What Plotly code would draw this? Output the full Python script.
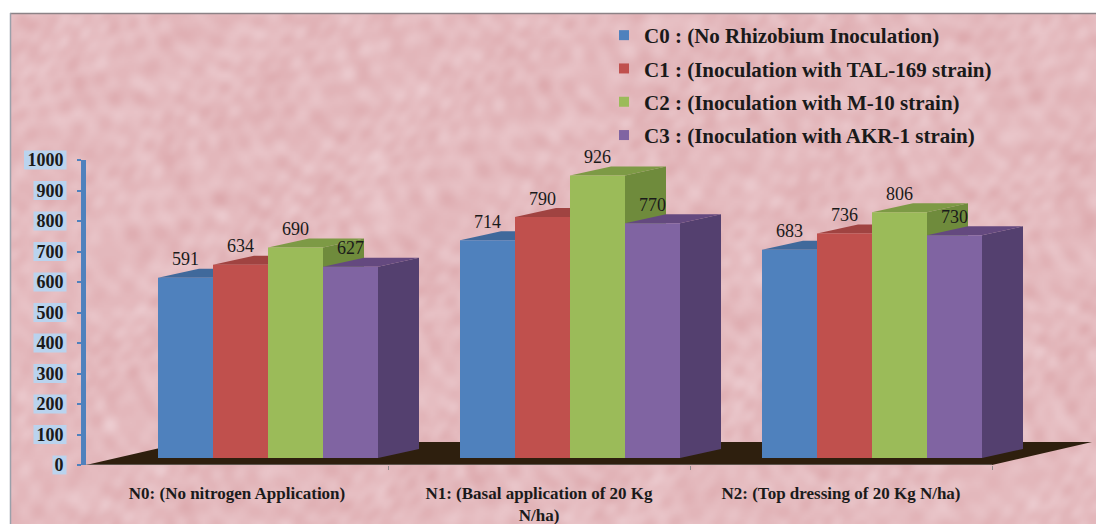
import base64
import struct
import zlib

import numpy as np
import plotly.graph_objects as go

groups = ["N0: (No nitrogen Application)", "N1: (Basal application of 20 Kg<br>N/ha)", "N2: (Top dressing of 20 Kg N/ha)"]
series_names = ["C0 : (No Rhizobium Inoculation)", "C1 : (Inoculation with TAL-169 strain)",
                "C2 : (Inoculation with M-10 strain)", "C3 : (Inoculation with AKR-1 strain)"]
c0 = [591, 714, 683]
c1 = [634, 790, 736]
c2 = [690, 926, 806]
c3 = [627, 770, 730]
series = [c0, c1, c2, c3]
y_ticks = [0, 100, 200, 300, 400, 500, 600, 700, 800, 900, 1000]

front = ["#4F81BD", "#C0504D", "#9BBB59", "#8064A2"]
side = ["#3A6291", "#8E3B39", "#6F8B3C", "#54406F"]
top = ["#40699B", "#A04341", "#7D9A45", "#64497F"]

L, R, T, B = 86, 1096, 160, 465
W, H = 1096, 524
AXIS_END = 992
unit_x = (AXIS_END - L) / 3.0
unit_y = (B - T) / 1000.0
bar_w = 55 / unit_x
shift_x, base_y = 31 / unit_x, 7 / unit_y
depth_x, depth_y = 41 / unit_x, 9 / unit_y
floor_x, floor_y = 100 / unit_x, 23 / unit_y


def px(x):
    return (x - L) / (R - L)


def py(y):
    return (B - y) / (B - T)


def texture_uri(w=548, h=262):
    yy, xx = np.mgrid[0:h, 0:w].astype(float)
    m = np.ones((h, w)) * 0.0
    waves = [(0.041, 0.063, 0.4), (0.083, -0.057, 1.9), (-0.117, 0.151, 3.1), (0.233, 0.191, 0.7),
             (-0.271, 0.293, 2.3), (0.457, -0.423, 4.2), (0.611, 0.397, 5.1), (0.173, -0.347, 1.1),
             (0.331, 0.067, 2.7), (0.029, 0.379, 3.7), (-0.521, 0.113, 0.2), (0.097, 0.571, 4.9)]
    for fx, fy, ph in waves:
        warp = 2.5 * np.sin(0.037 * xx + ph) * np.sin(0.029 * yy - ph) + 2.0 * np.sin(0.071 * yy + 0.053 * xx + 2 * ph)
        m += np.sin(fx * xx + fy * yy + ph + warp)
    m = m / np.abs(m).max()
    rgb = np.stack([229 + 8 * m, 187 + 18 * m, 191 + 18 * m], axis=2).clip(0, 255).astype(np.uint8)
    raw = b"".join(b"\x00" + rgb[i].tobytes() for i in range(h))

    def chunk(tag, data):
        return struct.pack(">I", len(data)) + tag + data + struct.pack(">I", zlib.crc32(tag + data))

    png = (b"\x89PNG\r\n\x1a\n" + chunk(b"IHDR", struct.pack(">IIBBBBB", w, h, 8, 2, 0, 0, 0))
           + chunk(b"IDAT", zlib.compress(raw, 9)) + chunk(b"IEND", b""))
    return "data:image/png;base64," + base64.b64encode(png).decode()


fig = go.Figure()


def poly(xs, ys, color):
    fig.add_trace(go.Scatter(x=xs + xs[:1], y=ys + ys[:1], fill="toself", fillcolor=color, mode="lines",
                             line=dict(width=0, color=color), showlegend=False, hoverinfo="skip", cliponaxis=False))


poly([-0.5, 2.5, 2.5 + floor_x, -0.5 + floor_x], [0, 0, floor_y, floor_y], "#2E1F0E")
fig.add_trace(go.Scatter(x=[-0.5, 2.5], y=[0, 0], mode="lines", line=dict(color="#8f8a8c", width=1),
                         showlegend=False, hoverinfo="skip", cliponaxis=False))

label_x, label_y, label_text = [], [], []
for g in range(3):
    for s, vals in enumerate(series):
        v = vals[g]
        x0 = g + shift_x + (s - 2) * bar_w
        x1 = x0 + bar_w
        y0, y1 = base_y, base_y + v
        poly([x1, x1 + depth_x, x1 + depth_x, x1], [y0, y0 + depth_y, y1 + depth_y, y1], side[s])
        poly([x0, x1, x1 + depth_x, x0 + depth_x], [y1, y1, y1 + depth_y, y1 + depth_y], top[s])
        poly([x0, x1, x1, x0], [y0, y0, y1, y1], front[s])
        label_x.append((x0 + x1) / 2)
        label_y.append(y1 + 8 / unit_y)
        label_text.append(str(v))

fig.add_trace(go.Scatter(x=label_x, y=label_y, mode="text", text=label_text, textposition="top center",
                         textfont=dict(family="Liberation Serif", size=18, color="#1a1a1a"),
                         showlegend=False, hoverinfo="skip", cliponaxis=False))

for s, name in enumerate(series_names):
    fig.add_trace(go.Scatter(x=[None], y=[None], mode="markers", name=name, legendgroup=name,
                             marker=dict(symbol="square", size=10, color=front[s])))

shapes = [
    dict(type="rect", xref="paper", yref="paper", x0=px(0), x1=px(W), y0=py(0), y1=py(13),
         fillcolor="white", line_width=0, layer="below"),
    dict(type="rect", xref="paper", yref="paper", x0=px(0), x1=px(10), y0=py(0), y1=py(H),
         fillcolor="white", line_width=0, layer="below"),
    dict(type="line", xref="paper", yref="paper", x0=px(10), x1=px(W), y0=py(13.5), y1=py(13.5),
         line=dict(color="#8c8286", width=1.5), layer="below"),
    dict(type="line", xref="paper", yref="paper", x0=px(10.5), x1=px(10.5), y0=py(13), y1=py(H),
         line=dict(color="#9aa0aa", width=1.5), layer="below"),
]
for t in y_ticks:
    width = 14 + 9.5 * (len(str(t)) - 1)
    shapes.append(dict(type="rect", xref="paper", yref="paper", x0=px(66.5 - width), x1=px(66.5),
                       y0=(t - 31) / 1000, y1=(t + 31) / 1000, fillcolor="#BAD3EE",
                       line_width=0, layer="below"))

fig.update_layout(
    width=W, height=H, autosize=False,
    margin=dict(l=L, r=W - R, t=T, b=H - B, pad=0, autoexpand=False),
    paper_bgcolor="#E8BEC3", plot_bgcolor="rgba(0,0,0,0)",
    shapes=shapes,
    images=[dict(source=texture_uri(), xref="paper", yref="paper", x=px(10), y=py(13), sizex=px(W) - px(10),
                 sizey=py(13) - py(H), xanchor="left", yanchor="top", sizing="stretch", layer="below")],
    showlegend=True,
    legend=dict(x=px(604), y=py(15), xanchor="left", yanchor="top", bgcolor="rgba(0,0,0,0)",
                font=dict(family="Liberation Serif", size=21, color="#1a1a1a", weight=700),
                tracegroupgap=3, itemwidth=30, traceorder="grouped"),
    xaxis=dict(range=[-0.5, -0.5 + (R - L) / unit_x], tickmode="array", tickvals=[0, 1, 2], ticktext=groups, ticks="",
               showgrid=False, zeroline=False, showline=False, automargin=False,
               ticklabelstandoff=16,
               tickfont=dict(family="Liberation Serif", size=17, color="#1a1a1a", weight=700),
               minor=dict(tickvals=[0.5, 1.5, 2.5], ticks="outside", ticklen=4, tickcolor="#8f8a8c", showgrid=False)),
    yaxis=dict(range=[0, 1000], tickmode="array", tickvals=y_ticks, showgrid=False, zeroline=False, automargin=False,
               showline=True, linecolor="#4F81BD", linewidth=5, ticks="outside", ticklen=4, tickwidth=2,
               tickcolor="#4F81BD", ticklabelstandoff=10,
               tickfont=dict(family="Liberation Serif", size=18, color="#1a1a1a", weight=700)),
)

fig.write_html("out.html", config=dict(displayModeBar=False),
               post_script="document.body.style.margin='0';document.body.style.overflow='hidden';")
